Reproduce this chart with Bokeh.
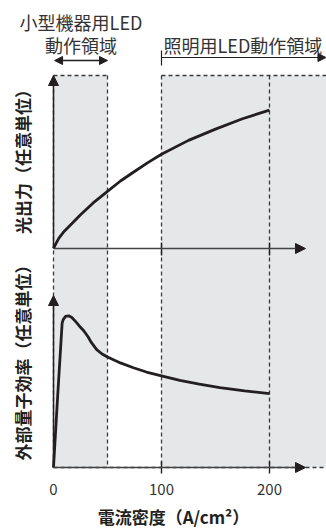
import math
from bokeh.plotting import figure
from bokeh.models import Range1d, Arrow, NormalHead, Label
from bokeh.core.properties import value
from bokeh.embed import file_html
from bokeh.resources import INLINE

# ---- data -------------------------------------------------------------
# light output vs current density (arbitrary units)
light_x = [0, 2, 5, 10, 18, 25, 37, 50, 62, 75, 87, 100, 125, 150, 175, 200]
light_y = [0, 0.25, 0.6, 1.0, 1.5, 1.95, 2.65, 3.3, 3.9, 4.45, 4.95, 5.45, 6.25, 6.9, 7.5, 8.0]

# external quantum efficiency vs current density (arbitrary units)
eqe_x = [0, 4, 8, 9, 11, 14, 17, 21, 25, 28, 32, 35, 40, 45, 50, 62, 74, 86, 100, 117, 135, 154, 177, 200]
eqe_y = [0, 4.3, 8.4, 8.6, 8.78, 8.82, 8.72, 8.45, 8.15, 7.95, 7.6, 7.27, 6.85, 6.6, 6.42, 6.08, 5.8, 5.55, 5.33, 5.06, 4.85, 4.65, 4.45, 4.3]

# operating regions (current density)
small_region = (0, 50)
lighting_region = (100, None)   # open-ended to the right
guide_x = [0, 50, 100, 200]

tick_values = [0, 100, 200]
tick_labels = ["0", "100", "200"]

x_title = "電流密度（A/cm²）"
upper_title = "光出力（任意単位）"
lower_title = "外部量子効率（任意単位）"
small_label = ["小型機器用LED", "動作領域"]
lighting_label = "照明用LED動作領域"

# ---- layout -----------------------------------------------------------
W, H = 326, 531
X0_PX, SX = 53.0, 1.08          # x=0 pixel position and pixels per A/cm²


def X(px):
    return (px - X0_PX) / SX


def range_from(v0_top_px, v10_top_px):
    b0, b1 = H - v0_top_px, H - v10_top_px
    s = (b1 - b0) / 10.0
    return Range1d(start=-b0 / s, end=(H - b0) / s)


x_end = X(W)
BOX_TOP, BOX_BOTTOM = 75, 467

p = figure(width=W, height=H, x_range=Range1d(X(0), x_end), y_range=Range1d(H, 0),
           output_backend="svg", toolbar_location=None, min_border=0,
           x_axis_location=None, y_axis_location=None, outline_line_color=None,
           background_fill_color="white", border_fill_color="white")
p.grid.visible = False
p.extra_y_ranges = {"light": range_from(248, 75), "eqe": range_from(467, 295)}

FONT = value("Noto Sans CJK JP")
INK = "#231f20"
DASH_C = "#3a3a3a"
GRAY = "#e6e7e9"

# shaded operating regions
p.quad(left=[small_region[0], lighting_region[0]], right=[small_region[1], x_end],
       top=BOX_TOP, bottom=BOX_BOTTOM, fill_color=GRAY, line_color=None)

# dashed region outlines
dash = dict(line_color=DASH_C, line_width=1.3, line_dash="4 3")
for gx in guide_x:
    p.segment(x0=gx, y0=BOX_TOP, x1=gx, y1=BOX_BOTTOM, **dash)
p.segment(x0=small_region[0], y0=BOX_TOP, x1=small_region[1], y1=BOX_TOP, **dash)
p.segment(x0=lighting_region[0], y0=BOX_TOP, x1=x_end, y1=BOX_TOP, **dash)
p.segment(x0=0, y0=BOX_BOTTOM, x1=x_end, y1=BOX_BOTTOM, **dash)

# curves
p.line(light_x, light_y, y_range_name="light", line_color=INK, line_width=2.8)
p.line(eqe_x, eqe_y, y_range_name="eqe", line_color=INK, line_width=2.8)

# axes drawn as arrows
ax_x_end = X(305)
for rn in ("light", "eqe"):
    p.add_layout(Arrow(x_start=0, y_start=0, x_end=0, y_end=10, y_range_name=rn,
                       line_color=INK, line_width=1.5,
                       end=NormalHead(size=10, fill_color=INK, line_color=INK)))
    p.add_layout(Arrow(x_start=0, y_start=0, x_end=ax_x_end, y_end=0, y_range_name=rn,
                       line_color="#444444", line_width=1.4,
                       end=NormalHead(size=10, fill_color=INK, line_color=INK)))

# tick marks on both axes
for tv in tick_values[1:]:
    p.segment(x0=tv, y0=242, x1=tv, y1=255, line_color=INK, line_width=1.4)
    p.segment(x0=tv, y0=461, x1=tv, y1=473, line_color=INK, line_width=1.4)

# tick labels
p.text(x=tick_values, y=[489] * len(tick_values), text=tick_labels, text_font=FONT,
       text_font_size="15px", text_color="#333333", text_align="center",
       text_baseline="middle")

# region annotations
p.add_layout(Arrow(x_start=small_region[0] + 1, y_start=60, x_end=small_region[1], y_end=60,
                   line_color=INK, line_width=1.4,
                   start=NormalHead(size=8, fill_color=INK, line_color=INK),
                   end=NormalHead(size=8, fill_color=INK, line_color=INK)))
p.add_layout(Arrow(x_start=lighting_region[0], y_start=57, x_end=x_end - 0.5, y_end=57,
                   line_color=INK, line_width=1.2,
                   end=NormalHead(size=8, fill_color=INK, line_color=INK)))
p.segment(x0=lighting_region[0], y0=50, x1=lighting_region[0], y1=65,
          line_color=INK, line_width=1.2)

txt = dict(text_font="Noto Sans CJK JP", text_color="#333333", text_baseline="middle")
p.add_layout(Label(x=X(80.5), y=21, text=small_label[0], text_font_size="18px",
                   text_align="center", **txt))
p.add_layout(Label(x=X(80.5), y=44, text=small_label[1], text_font_size="18px",
                   text_align="center", **txt))
p.add_layout(Label(x=X(163), y=44, text=lighting_label, text_font_size="18px",
                   text_align="left", **txt))

bold = dict(text_font="Noto Sans CJK JP", text_color="#231f20", text_font_style="bold",
            text_baseline="middle", text_align="center")
p.add_layout(Label(x=X(22), y=157, text=upper_title, angle=math.pi / 2,
                   text_font_size="17px", **bold))
p.add_layout(Label(x=X(22), y=358, text=lower_title, angle=math.pi / 2,
                   text_font_size="17px", **bold))
p.add_layout(Label(x=X(173), y=516, text=x_title, text_font_size="17px", **bold))

open("out.html", "w").write(file_html(p, INLINE))
